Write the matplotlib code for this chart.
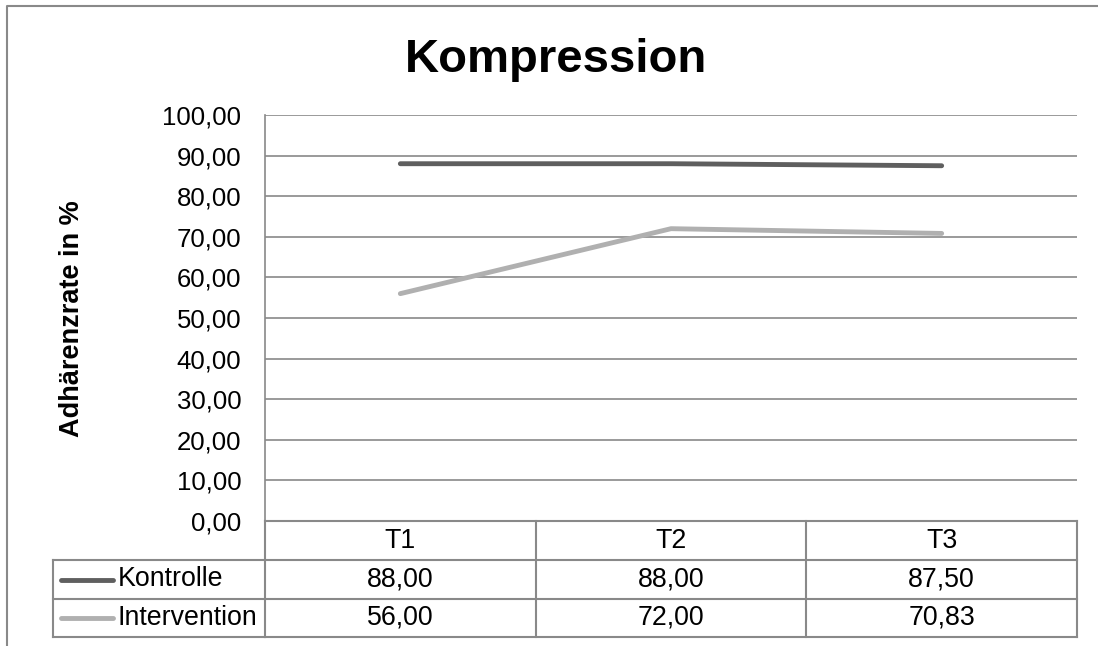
import numpy as np
import matplotlib.pyplot as plt
from matplotlib.lines import Line2D
import matplotlib.transforms as mtransforms

plt.rcParams['font.family'] = ['Liberation Sans', 'DejaVu Sans']

# dati
zeitpunkte = ['T1', 'T2', 'T3']
serien = ['Kontrolle', 'Intervention']
kontrolle = [88.00, 88.00, 87.50]
intervention = [56.00, 72.00, 70.83]
farben = ['#5f5f5f', '#b0b0b0']
y_ticks = np.arange(0, 101, 10)

W, H = 1098, 646
fig = plt.figure(figsize=(W / 100, H / 100), dpi=100)

def fx(x):
    return x / W

def fy(y):
    return 1 - y / H

griglia = '#898989'
fs = 18.5
fs_tab = 19.3

# cornice esterna (solo sinistra e alto visibili)
fig.add_artist(Line2D([fx(7), fx(7), 1], [0, fy(6), fy(6)], color=griglia, lw=1.5))

# area del grafico
ax = fig.add_axes([fx(265), fy(521), fx(1077) - fx(265), fy(115) - fy(521)])
x = np.arange(len(zeitpunkte))
for vals, nome, col in zip([kontrolle, intervention], serien, farben):
    ax.plot(x, vals, color=col, lw=3.5, solid_capstyle='round', label=nome, zorder=3)

ax.set_xlim(-0.5, len(zeitpunkte) - 0.5)
ax.set_ylim(0, 100)
ax.set_yticks(y_ticks)
ax.set_yticklabels([f'{v:.2f}'.replace('.', ',') for v in y_ticks], fontsize=fs)
ax.set_xticks([])
ax.tick_params(axis='y', length=0, pad=17)
ax.grid(axis='y', color=griglia, lw=1.2)
ax.set_axisbelow(True)
for s in ['top', 'right', 'bottom']:
    ax.spines[s].set_visible(False)
ax.spines['left'].set_color(griglia)
ax.spines['left'].set_linewidth(1.2)

fig.text(fx(556), fy(72), 'Kompression', fontsize=34, fontweight='bold',
         ha='center', va='baseline')
fig.text(fx(72), fy(319), 'Adhärenzrate in %', fontsize=19.5, fontweight='bold',
         rotation=90, ha='center', va='center')

# tabella dati sotto il grafico
trans = mtransforms.blended_transform_factory(ax.transData, fig.transFigure)
bordi = np.arange(len(zeitpunkte) + 1) - 0.5
righe_y = [521, 560, 599, 637]
lw_t = 1.5

# righe orizzontali
fig.add_artist(Line2D([bordi[0], bordi[-1]], [fy(521), fy(521)], transform=trans,
                      color=griglia, lw=lw_t))
for yy in [560, 599, 637]:
    fig.add_artist(Line2D([fx(53), fx(265)], [fy(yy), fy(yy)], color=griglia, lw=lw_t))
    fig.add_artist(Line2D([bordi[0], bordi[-1]], [fy(yy), fy(yy)], transform=trans,
                          color=griglia, lw=lw_t))
# verticali
for b in bordi:
    fig.add_artist(Line2D([b, b], [fy(521), fy(637)], transform=trans, color=griglia, lw=lw_t))
fig.add_artist(Line2D([fx(53), fx(53)], [fy(560), fy(637)], color=griglia, lw=lw_t))

# intestazione
for i, t in enumerate(zeitpunkte):
    fig.text(i, fy(540.5), t, transform=trans, fontsize=fs_tab, ha='center', va='center')

# righe con i valori
for r, (nome, vals, col) in enumerate(zip(serien, [kontrolle, intervention], farben)):
    yc = (righe_y[r + 1] + righe_y[r + 2]) / 2
    fig.add_artist(Line2D([fx(61), fx(113)], [fy(yc), fy(yc)], color=col, lw=3.5,
                          solid_capstyle='round'))
    fig.text(fx(118), fy(yc), nome, fontsize=fs_tab, ha='left', va='center')
    for i, v in enumerate(vals):
        fig.text(i, fy(yc), f'{v:.2f}'.replace('.', ','), transform=trans,
                 fontsize=fs_tab, ha='center', va='center')

fig.savefig('out.png', dpi=100)
